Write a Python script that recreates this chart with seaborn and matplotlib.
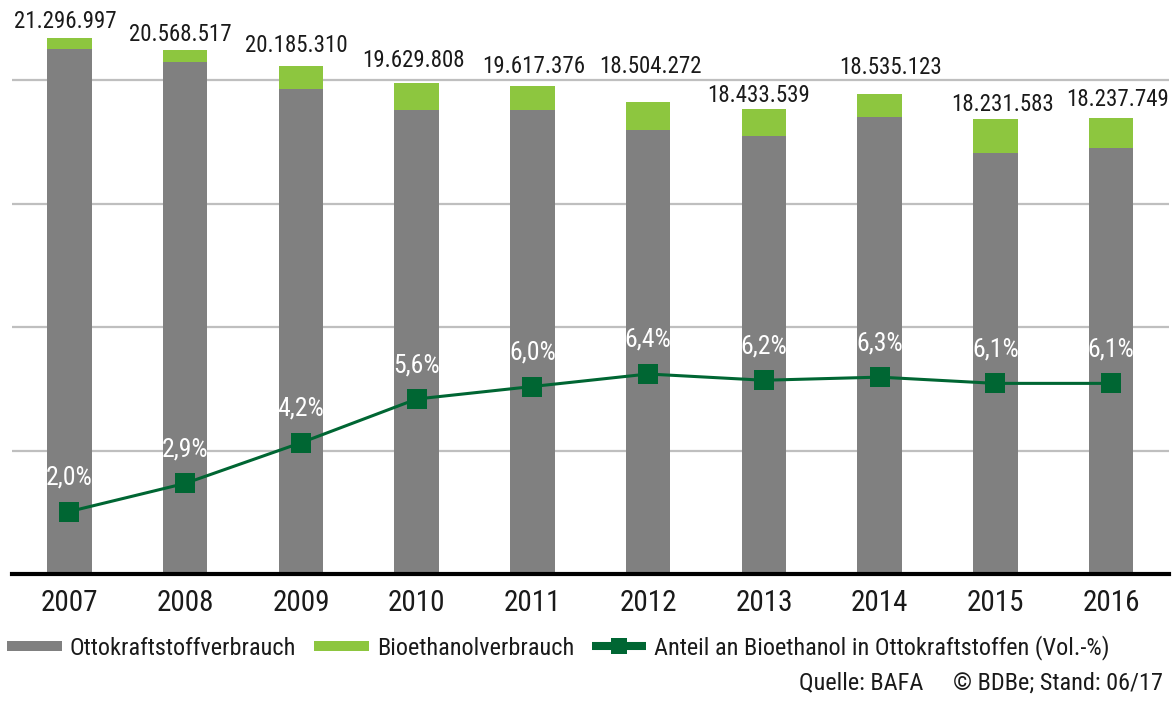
import numpy as np
import matplotlib
matplotlib.use("Agg")
import matplotlib.pyplot as plt
import seaborn as sns
from matplotlib.lines import Line2D

# data (bar heights in million t, as drawn)
years = ["2007", "2008", "2009", "2010", "2011", "2012", "2013", "2014", "2015", "2016"]
otto_mt = [21.25, 20.71, 19.62, 18.79, 18.79, 17.97, 17.75, 18.51, 17.06, 17.24]
bio_mt = [0.45, 0.50, 0.93, 1.08, 0.97, 1.15, 1.08, 0.92, 1.35, 1.21]
total_labels = ["21.296.997", "20.568.517", "20.185.310", "19.629.808", "19.617.376",
                "18.504.272", "18.433.539", "18.535.123", "18.231.583", "18.237.749"]
share_pct = [2.0, 2.9, 4.2, 5.6, 6.0, 6.4, 6.2, 6.3, 6.1, 6.1]

share_labels = [f"{v:.1f}%".replace(".", ",") for v in share_pct]
total_mt = [o + b for o, b in zip(otto_mt, bio_mt)]

GRAY = "#808080"
LIGHT_GREEN = "#8DC63F"
DARK_GREEN = "#006633"
TEXT = "#1a1a1a"

sns.set_style("white")
plt.rcParams["font.family"] = ["Roboto Condensed", "DejaVu Sans"]

W, H = 1175, 702
fig = plt.figure(figsize=(W / 100, H / 100), dpi=100)
ax = fig.add_axes([11.6 / W, (H - 574) / H, 1157.4 / W, 574 / H])

# stacked bars: total in green, Otto part in gray drawn over it
sns.barplot(x=years, y=total_mt, color=LIGHT_GREEN, saturation=1, width=0.385,
            linewidth=0, ax=ax, zorder=2)
sns.barplot(x=years, y=otto_mt, color=GRAY, saturation=1, width=0.385,
            linewidth=0, ax=ax, zorder=3)

ax.set_xlim(-0.5, len(years) - 0.5)
ax.set_ylim(0, 574 / 24.7)
ax.set_yticks([5, 10, 15, 20])
ax.set_yticklabels([])
ax.yaxis.grid(True, color="#BFBFBF", lw=1.6)
ax.set_axisbelow(True)
ax.tick_params(axis="x", length=0, pad=11, labelsize=21, colors=TEXT)
ax.tick_params(axis="y", length=0)
ax.set_xlabel("")
ax.set_ylabel("")
for side in ["top", "left", "right"]:
    ax.spines[side].set_visible(False)
ax.spines["bottom"].set_color("black")
ax.spines["bottom"].set_linewidth(3)
ax.spines["bottom"].set_zorder(5)

# total labels above bars, nudged like in the original (px)
label_dx = [-4, -5, -5, -3, 1, 2, -5, 11, 7, 6]
label_dy = [16.5, 15.5, 21, 23, 19, 35, 13, 26.5, 15, 19]
for i, (t, lab) in enumerate(zip(total_mt, total_labels)):
    ax.annotate(lab, (i, t), xytext=(label_dx[i] * 0.72, label_dy[i] * 0.72),
                textcoords="offset points", ha="center", va="center",
                fontsize=16.5, color=TEXT, annotation_clip=False)

# share line on a hidden second axis
ax2 = ax.twinx()
sns.lineplot(x=np.arange(len(years)), y=share_pct, ax=ax2, color=DARK_GREEN, lw=2.2,
             marker="s", markersize=14, markeredgewidth=0, zorder=6)
ax2.set_ylim(0, 574 / 31.25)
ax2.set_yticks([])
ax2.set_ylabel("")
for side in ["top", "left", "right", "bottom"]:
    ax2.spines[side].set_visible(False)
for i, (p, lab) in enumerate(zip(share_pct, share_labels)):
    ax2.annotate(lab, (i, p), xytext=(0, 34 * 0.72), textcoords="offset points",
                 ha="center", va="center", fontsize=18.5, color="white")

handles = [
    Line2D([], [], color=GRAY, lw=7.2, solid_capstyle="butt"),
    Line2D([], [], color=LIGHT_GREEN, lw=7.2, solid_capstyle="butt"),
    Line2D([], [], color=DARK_GREEN, lw=5.8, marker="s", markersize=11.5,
           markeredgewidth=0, solid_capstyle="butt"),
]
labels = ["Ottokraftstoffverbrauch", "Bioethanolverbrauch",
          "Anteil an Bioethanol in Ottokraftstoffen (Vol.-%)"]
fig.legend(handles, labels, loc="center left", bbox_to_anchor=(7 / W, 1 - 648 / H),
           ncol=3, frameon=False, fontsize=17.5, handlelength=2.26, handletextpad=0.33,
           columnspacing=0.72, borderaxespad=0, borderpad=0, labelcolor=TEXT)

fig.text(923 / W, 1 - 683 / H, "Quelle: BAFA", ha="right", va="center", fontsize=17.5, color=TEXT)
fig.text(1163 / W, 1 - 683 / H, "© BDBe; Stand: 06/17", ha="right", va="center",
         fontsize=17.5, color=TEXT)

fig.savefig("out.png", dpi=100)
